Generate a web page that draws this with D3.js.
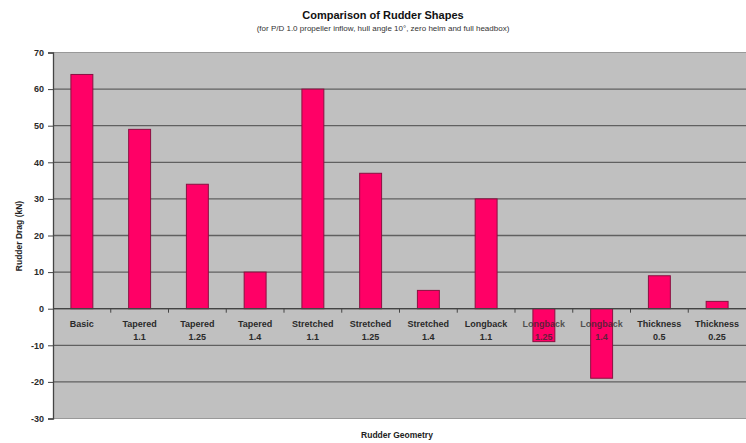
<!DOCTYPE html>
<html><head><meta charset="utf-8">
<script src="https://cdn.jsdelivr.net/npm/d3@7"></script>
<style>body{margin:0;background:#fff;}svg{display:block;font-family:"Liberation Sans",Arial,sans-serif;}</style>
</head><body>
<svg id="c" width="746" height="443"></svg>
<script>
const categories = [["Basic"],["Tapered","1.1"],["Tapered","1.25"],["Tapered","1.4"],["Stretched","1.1"],["Stretched","1.25"],["Stretched","1.4"],["Longback","1.1"],["Longback","1.25"],["Longback","1.4"],["Thickness","0.5"],["Thickness","0.25"]];
const values = [64,49,34,10,60,37,5,30,-9,-19,9,2];
const yTicks = [-30,-20,-10,0,10,20,30,40,50,60,70];

const svg = d3.select("#c");
const L=53, R=746, T=52.5, B=418.5;
const keys = categories.map((c,i)=>i);
const x = d3.scaleBand().domain(keys).range([L,R]).paddingInner(0.62).paddingOuter(0.31);
const xb = d3.scaleBand().domain(keys).range([L,R]);
const y = d3.scaleLinear().domain([-30,70]).range([B,T]);

svg.append("rect").attr("x",L).attr("y",T).attr("width",R-L).attr("height",B-T).attr("fill","#c0c0c0");
// gridlines
svg.append("g").selectAll("line").data(yTicks.filter(v=>v>-30&&v<70)).join("line")
 .attr("x1",L).attr("x2",R).attr("y1",d=>y(d)).attr("y2",d=>y(d))
 .attr("stroke",d=>d===0?"#555":"#606060").attr("stroke-width",1.3);
svg.append("line").attr("x1",L).attr("x2",R).attr("y1",T).attr("y2",T).attr("stroke","#999").attr("stroke-width",1);
svg.append("line").attr("x1",L).attr("x2",R).attr("y1",B).attr("y2",B).attr("stroke","#999").attr("stroke-width",1);

// bars
svg.append("g").selectAll("rect").data(values).join("rect")
 .attr("x",(d,i)=>x(i)).attr("width",x.bandwidth())
 .attr("y",d=>y(Math.max(0,d))).attr("height",d=>Math.abs(y(d)-y(0)))
 .attr("fill","#ff0066").attr("stroke","#8a1040").attr("stroke-width",1);

// x axis at zero with ticks
const xa = svg.append("g").attr("transform",`translate(0,${y(0)})`);
xa.append("line").attr("x1",L).attr("x2",R).attr("stroke","#444").attr("stroke-width",1.3);
xa.selectAll("line.t").data(keys.slice(1)).join("line").attr("class","t")
 .attr("x1",d=>xb(d)).attr("x2",d=>xb(d)).attr("y1",0).attr("y2",4).attr("stroke","#444");

// category labels
const lab = svg.append("g").attr("font-size","9px").attr("font-weight","bold").attr("fill","#2a2a2a").attr("text-anchor","middle");
categories.forEach((c,i)=>{
  const cx = xb(i)+xb.bandwidth()/2;
  c.forEach((s,j)=>lab.append("text").attr("x",cx).attr("y",327+j*13).attr("fill-opacity",values[i]<0?0.75:1).text(s));
});

// y axis
const ya = svg.append("g").attr("transform",`translate(${L},0)`)
 .call(d3.axisLeft(y).tickValues(yTicks).tickFormat(d=>String(d)).tickSize(5).tickPadding(4));
ya.select(".domain").attr("stroke","#444").attr("stroke-width",1.3);
ya.selectAll(".tick line").attr("stroke","#444");
ya.selectAll("text").attr("font-size","9px").attr("font-weight","bold").attr("fill","#2a2a2a").attr("font-family","Liberation Sans, Arial, sans-serif");

// titles
svg.append("text").attr("x",383).attr("y",19).attr("text-anchor","middle").attr("font-size","11px").attr("font-weight","bold").attr("fill","#111").text("Comparison of Rudder Shapes");
svg.append("text").attr("x",383).attr("y",31).attr("text-anchor","middle").attr("font-size","8px").attr("fill","#333").text("(for P/D 1.0 propeller inflow, hull angle 10°, zero helm and full headbox)");
svg.append("text").attr("x",397).attr("y",438).attr("text-anchor","middle").attr("font-size","8.5px").attr("font-weight","bold").attr("fill","#222").text("Rudder Geometry");
svg.append("text").attr("transform","translate(22,236) rotate(-90)").attr("text-anchor","middle").attr("font-size","8.5px").attr("font-weight","bold").attr("fill","#222").text("Rudder Drag (kN)");
</script>
</body></html>
